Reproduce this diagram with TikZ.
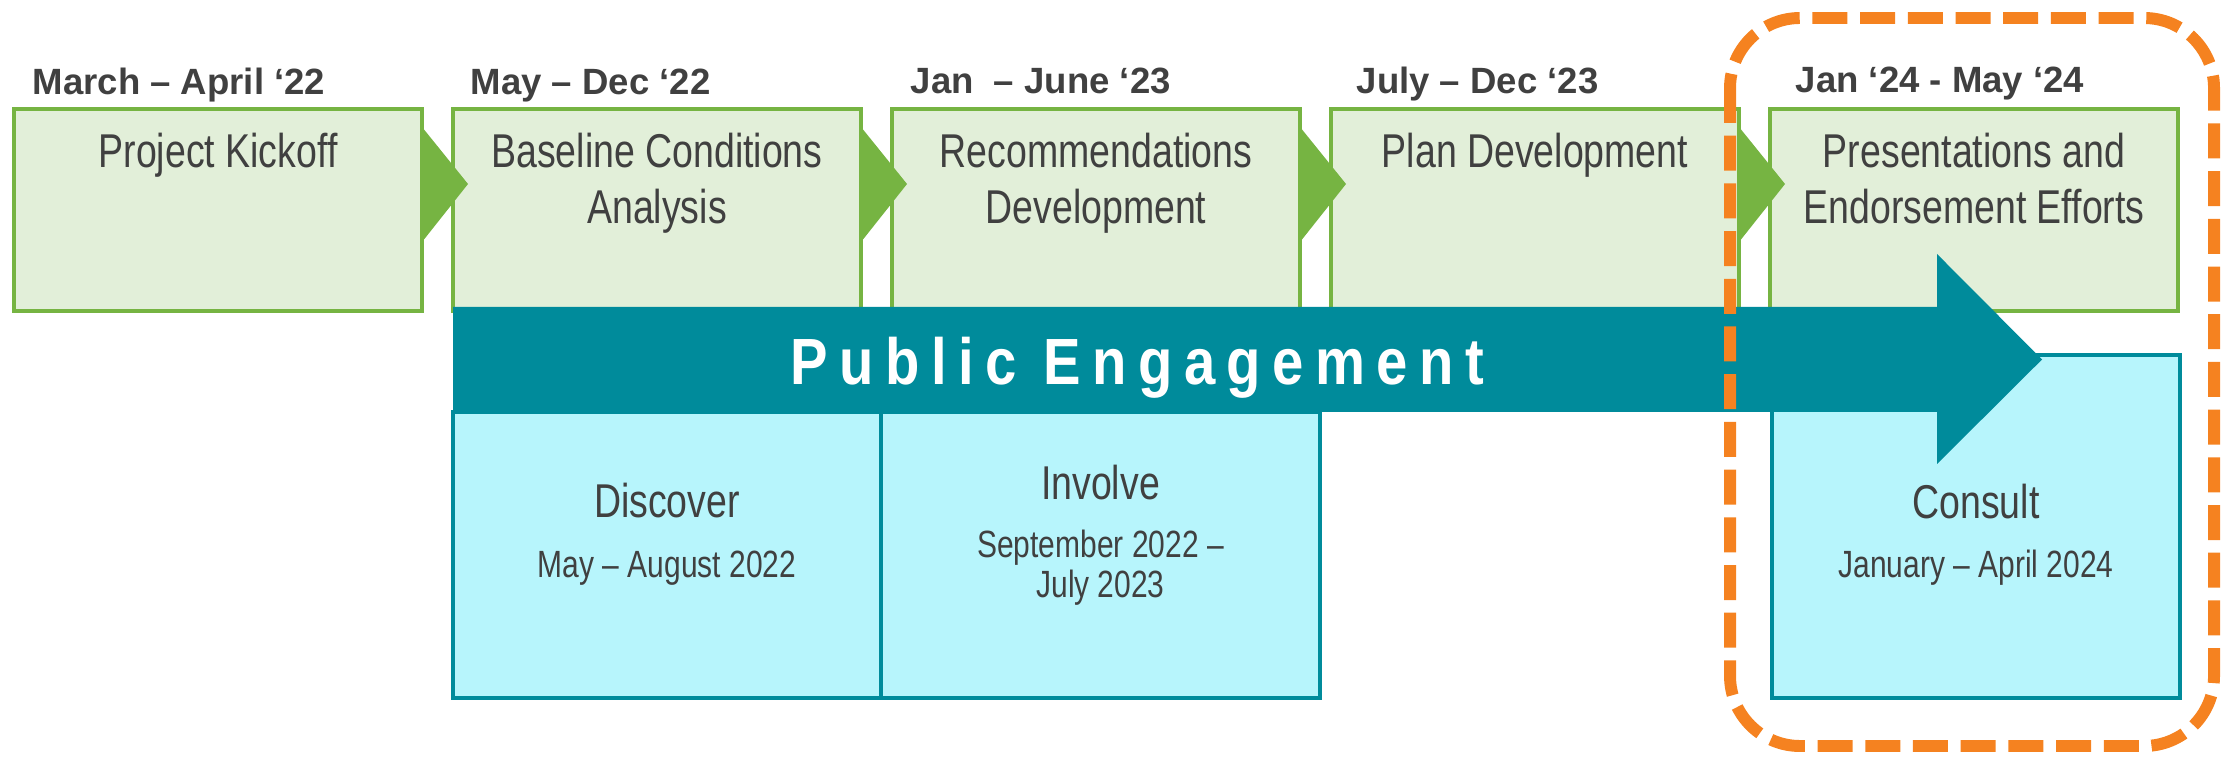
\documentclass[tikz,border=0pt]{standalone}
\usepackage{fontspec}
\setmainfont{Liberation Sans}
\newfontfamily\narrowfont[FakeStretch=0.79]{Liberation Sans}
\newfontfamily\spacedfont[FakeStretch=0.86,LetterSpace=17.5]{Liberation Sans}
\usetikzlibrary{positioning}

\definecolor{stagefill}{RGB}{226,239,217}
\definecolor{stageline}{RGB}{118,180,66}
\definecolor{engteal}{RGB}{0,139,155}
\definecolor{engfill}{RGB}{183,245,252}
\definecolor{darktext}{RGB}{64,64,64}
\definecolor{focusorange}{RGB}{245,130,32}

\begin{document}
\begin{tikzpicture}[node distance=4.39cm, line join=miter]

  \useasboundingbox (0,0) rectangle (22.21,-7.57);

  \tikzstyle{stage}=[rectangle,draw=stageline,fill=stagefill,line width=1pt,outer sep=0pt,
                     minimum width=4.08cm,minimum height=2.02cm]
  \tikzstyle{stagetext}=[anchor=north,align=center,inner sep=0pt,text=darktext,
                         font=\narrowfont\fontsize{13.5}{16.1}\selectfont]
  \tikzstyle{datetext}=[anchor=base west,inner sep=0pt,text=darktext,
                        font=\bfseries\fontsize{10.4}{12}\selectfont]
  \tikzstyle{phase}=[rectangle,draw=engteal,fill=engfill,line width=1pt,outer sep=0pt]
  \tikzstyle{phasetitle}=[anchor=base,inner sep=0pt,text=darktext,
                          font=\narrowfont\fontsize{13.5}{16}\selectfont]
  \tikzstyle{phasedate}=[anchor=base,align=center,inner sep=0pt,text=darktext,
                         font=\narrowfont\fontsize{10.8}{11.4}\selectfont]
  \tikzstyle{focus}=[draw=focusorange,line width=3.4pt,dash pattern=on 0.35cm off 0.127cm,
                     rounded corners=0.7cm]

  \node[stage] (kick) at (2.18,-2.10) {};
  \node[stage] (base) [right of=kick] {};
  \node[stage] (recs) [right of=base] {};
  \node[stage] (plan) [right of=recs] {};
  \node[stage] (pres) [right of=plan] {};

  \foreach \s in {kick,base,recs,plan}
    \fill[stageline] ([yshift=-0.18cm]\s.north east) -- ([xshift=0.46cm,yshift=-0.75cm]\s.north east)
                     -- ([yshift=-1.33cm]\s.north east) -- cycle;

  \node[stagetext] (kicktext) at ([yshift=-0.23cm]kick.north) {Project Kickoff};
  \node[stagetext] (basetext) at ([yshift=-0.23cm]base.north) {Baseline Conditions\\Analysis};
  \node[stagetext] (recstext) at ([yshift=-0.23cm]recs.north) {Recommendations\\Development};
  \node[stagetext] (plantext) at ([yshift=-0.23cm]plan.north) {Plan Development};
  \node[stagetext] (prestext) at ([yshift=-0.23cm]pres.north) {Presentations and\\Endorsement Efforts};

  \node[datetext] (kickdate) at ([xshift=0.18cm,yshift=0.14cm]kick.north west) {March – April ‘22};
  \node[datetext] (basedate) at ([xshift=0.17cm,yshift=0.14cm]base.north west) {May – Dec ‘22};
  \node[datetext] (recsdate) at ([xshift=0.18cm,yshift=0.15cm]recs.north west) {Jan\ \ – June ‘23};
  \node[datetext] (plandate) at ([xshift=0.25cm,yshift=0.15cm]plan.north west) {July – Dec ‘23};
  \node[datetext] (presdate) at ([xshift=0.25cm,yshift=0.16cm]pres.north west) {Jan ‘24 - May ‘24};

  \node[phase,minimum width=4.28cm,minimum height=2.86cm] (disc) at (6.67,-5.55) {};
  \node[phase,minimum width=4.39cm,minimum height=2.86cm] (invo) [right=0pt of disc] {};
  \node[phase,minimum width=4.08cm,minimum height=3.43cm] (cons) at (19.76,-5.265) {};

  \fill[engteal] (4.53,-3.07) -- (19.37,-3.07) -- (19.37,-2.54) -- (20.42,-3.595)
                 -- (19.37,-4.64) -- (19.37,-4.12) -- (4.53,-4.12) -- cycle;
  \node[anchor=base west,inner sep=0pt,text=white,font=\spacedfont\bfseries\fontsize{18.6}{20}\selectfont]
       (engage) at (7.90,-3.85) {Public Engagement};

  \node[phasetitle] (disctitle) at ([yshift=-1.06cm]disc.north) {Discover};
  \node[phasedate]  (discdate)  at ([yshift=-1.65cm]disc.north) {May – August 2022};
  \node[phasetitle] (invotitle) at ([yshift=-0.87cm]invo.north) {Involve};
  \node[phasedate,anchor=north] (invodate) at ([yshift=-1.17cm]invo.north) {September 2022 –\\July 2023};
  \node[phasetitle] (constitle) at ([yshift=-1.63cm]cons.north) {Consult};
  \node[phasedate]  (consdate)  at ([yshift=-2.22cm]cons.north) {January – April 2024};

  \draw[focus] (17.30,-0.18) rectangle (22.14,-7.46);

\end{tikzpicture}
\end{document}
